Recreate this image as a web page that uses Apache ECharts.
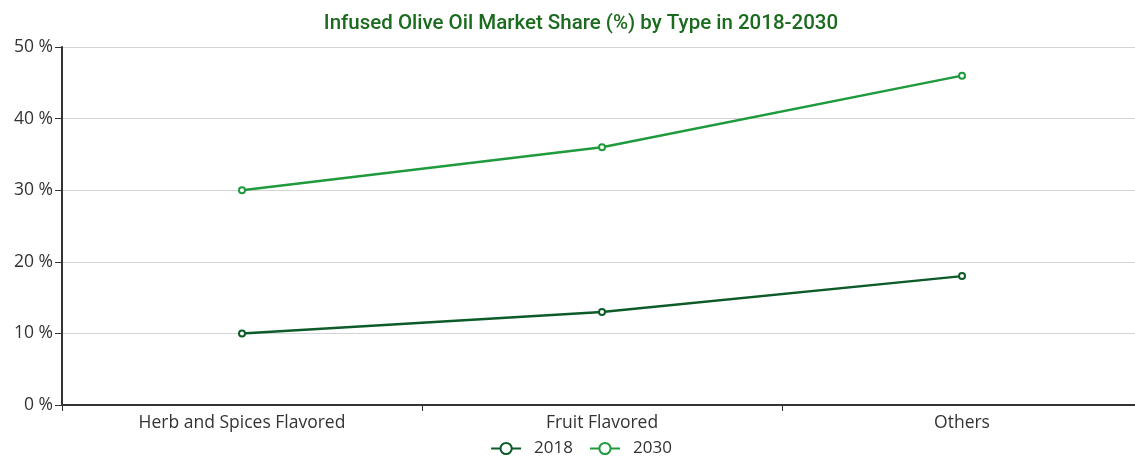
<!DOCTYPE html>
<html>
<head>
<meta charset="utf-8">
<script src="https://cdn.jsdelivr.net/npm/echarts@6/dist/echarts.min.js"></script>
<style>
  html, body { margin: 0; padding: 0; background: #fff; overflow: hidden; }
  #chart { width: 1162px; height: 457px; }
</style>
</head>
<body>
<div id="chart"></div>
<script>
// Product types on the x axis
const categories = ['Herb and Spices Flavored', 'Fruit Flavored', 'Others'];
// Market share in percent per year
const share2018 = [10, 13, 18];
const share2030 = [30, 36, 46];
const seriesNames = ['2018', '2030'];

const chart = echarts.init(document.getElementById('chart'));
chart.setOption({
  animation: false,
  backgroundColor: '#ffffff',
  title: {
    text: 'Infused Olive Oil Market Share (%) by Type in 2018-2030',
    left: 'center',
    top: 8,
    textStyle: { fontFamily: 'Roboto', fontSize: 20.5, fontWeight: 500, color: '#1b6b1e' }
  },
  legend: {
    top: 435,
    left: 'center',
    itemWidth: 30,
    itemHeight: 14,
    itemGap: 16,
    textStyle: { fontFamily: 'Open Sans', fontSize: 17, color: '#333', padding: [0, 0, 0, 8] },
    data: seriesNames
  },
  grid: { left: 62, right: 20, top: 47, bottom: 52 },
  xAxis: {
    type: 'category',
    data: categories,
    boundaryGap: true,
    axisLine: { lineStyle: { color: '#333', width: 2 } },
    axisTick: { show: true, length: 6, lineStyle: { color: '#333' } },
    axisLabel: { fontFamily: 'Open Sans', fontSize: 17.5, color: '#333', margin: 9 }
  },
  yAxis: {
    type: 'value',
    min: 0,
    max: 50,
    interval: 10,
    axisLine: { show: true, lineStyle: { color: '#333', width: 2 } },
    axisTick: { show: true, length: 7, lineStyle: { color: '#333' } },
    axisLabel: { fontFamily: 'Open Sans', fontSize: 17.5, color: '#333', formatter: '{value} %', margin: 9 },
    splitLine: { lineStyle: { color: '#d4d4d4', width: 1 } }
  },
  series: [
    {
      name: seriesNames[0],
      type: 'line',
      data: share2018,
      symbol: 'emptyCircle',
      symbolSize: 6,
      color: '#0d5b28',
      lineStyle: { width: 2.5, color: '#0d5b28' },
      itemStyle: { color: '#0d5b28', borderWidth: 1.5 }
    },
    {
      name: seriesNames[1],
      type: 'line',
      data: share2030,
      symbol: 'emptyCircle',
      symbolSize: 6,
      color: '#1f9a3c',
      lineStyle: { width: 2.5, color: '#1f9a3c' },
      itemStyle: { color: '#1f9a3c', borderWidth: 1.5 }
    }
  ]
});
</script>
</body>
</html>
